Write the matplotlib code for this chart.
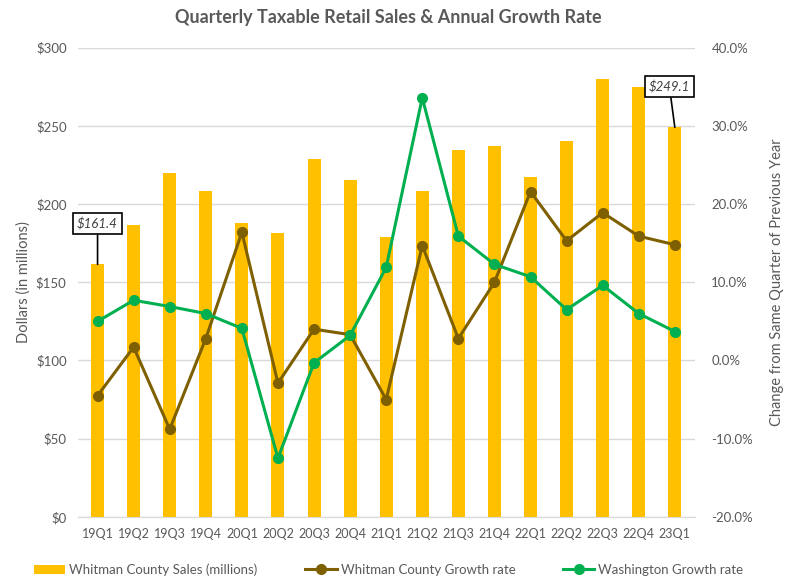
import numpy as np
import matplotlib
matplotlib.use("Agg")
import matplotlib.pyplot as plt
from matplotlib.ticker import FuncFormatter

plt.rcParams['font.family'] = ['Lato', 'DejaVu Sans']

quarters = ["19Q1", "19Q2", "19Q3", "19Q4", "20Q1", "20Q2", "20Q3", "20Q4", "21Q1",
            "21Q2", "21Q3", "21Q4", "22Q1", "22Q2", "22Q3", "22Q4", "23Q1"]
sales = [161.4, 186.5, 220.0, 208.6, 188.0, 181.7, 229.0, 215.6, 179.0,
         208.6, 234.8, 237.4, 217.5, 240.5, 280.0, 275.0, 249.1]
whitman_growth = [-4.5, 1.7, -8.8, 2.8, 16.4, -2.9, 4.0, 3.3, -5.0,
                  14.7, 2.8, 10.0, 21.6, 15.3, 18.9, 15.9, 14.8]
wa_growth = [5.0, 7.7, 6.9, 6.0, 4.1, -12.5, -0.3, 3.2, 11.9,
             33.6, 15.9, 12.3, 10.7, 6.5, 9.6, 6.0, 3.7]

gray = "#595959"
x = np.arange(len(quarters))

fig = plt.figure(figsize=(7.93, 5.82), dpi=100)
ax = fig.add_axes([0.098, 0.112, 0.778, 0.806])
ax2 = ax.twinx()

bars = ax.bar(x, sales, width=0.36, color="#FFC000", zorder=2,
              label="Whitman County Sales (millions)")
ax.set_ylim(0, 300)
ax.set_yticks(np.arange(0, 301, 50))
ax.yaxis.set_major_formatter(FuncFormatter(lambda v, p: "${:.0f}".format(v)))
ax.grid(axis='y', color="#D9D9D9", linewidth=1, zorder=0)
ax.set_axisbelow(True)
ax.set_xlim(-0.55, len(quarters) - 0.45)
ax.set_xticks(x)
ax.set_xticklabels(quarters)
ax.set_ylabel("Dollars (in millions)", color=gray, fontsize=10.5)

l1, = ax2.plot(x, whitman_growth, '-o', color="#7F6000", lw=2.2, ms=7,
               label="Whitman County Growth rate", zorder=3)
l2, = ax2.plot(x, wa_growth, '-o', color="#00B050", lw=2.2, ms=7,
               label="Washington Growth rate", zorder=4)
ax2.set_ylim(-20, 40)
ax2.set_yticks(np.arange(-20, 41, 10))
ax2.yaxis.set_major_formatter(FuncFormatter(lambda v, p: "{:.1f}%".format(v)))
ax2.set_ylabel("Change from Same Quarter of Previous Year", color=gray, fontsize=10.5,
               labelpad=12)

for a in (ax, ax2):
    for s in a.spines.values():
        s.set_visible(False)
    a.tick_params(length=0, colors=gray, labelsize=9.5)
ax.spines['bottom'].set_visible(True)
ax.spines['bottom'].set_color("#D9D9D9")
ax.tick_params(axis='x', pad=8, labelsize=9)
ax.tick_params(axis='y', pad=8)
ax2.tick_params(axis='y', pad=12)

# callouts for first and last bar
for i, dx, dy in [(0, 0, 26), (len(x) - 1, -0.15, 26)]:
    ax.annotate("${:.1f}".format(sales[i]), xy=(x[i], sales[i]),
                xytext=(x[i] + dx, sales[i] + dy), textcoords='data',
                ha='center', va='center', fontsize=9.5, style='italic', color="#404040",
                bbox=dict(boxstyle='square,pad=0.3', fc='white', ec='black', lw=1.2),
                arrowprops=dict(arrowstyle='-', color='black', lw=1.2,
                                shrinkA=0, shrinkB=0), zorder=6)

fig.suptitle("Quarterly Taxable Retail Sales & Annual Growth Rate", x=0.49, y=0.985,
             fontsize=13, fontweight='bold', color=gray)

fig.legend([bars, l1, l2], [bars.get_label(), l1.get_label(), l2.get_label()],
           loc='lower center', bbox_to_anchor=(0.49, -0.01), ncol=3, frameon=False,
           fontsize=9.5, labelcolor=gray, handlelength=2.4, handletextpad=0.3,
           columnspacing=3.6)

fig.savefig("out.png", dpi=100)
